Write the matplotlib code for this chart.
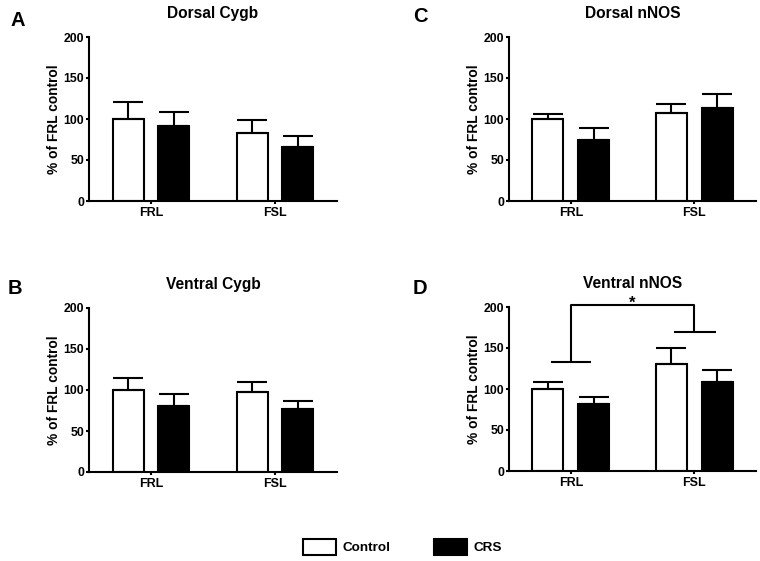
import numpy as np
import matplotlib
matplotlib.use("Agg")
import matplotlib.pyplot as plt
from matplotlib.patches import Patch

plt.rcParams['font.family'] = ['Liberation Sans', 'DejaVu Sans']
plt.rcParams['font.weight'] = 'bold'

# data (% of FRL control)
groups = ["FRL", "FSL"]
titles = ["Dorsal Cygb", "Ventral Cygb", "Dorsal nNOS", "Ventral nNOS"]
letters = ["A", "B", "C", "D"]

dorsal_cygb_ctrl = [100, 83]
dorsal_cygb_ctrl_err = [21, 16]
dorsal_cygb_crs = [92, 66]
dorsal_cygb_crs_err = [16, 13]

ventral_cygb_ctrl = [100, 97]
ventral_cygb_ctrl_err = [15, 13]
ventral_cygb_crs = [81, 77]
ventral_cygb_crs_err = [14, 10]

dorsal_nnos_ctrl = [100, 107]
dorsal_nnos_ctrl_err = [6, 11]
dorsal_nnos_crs = [75, 113]
dorsal_nnos_crs_err = [14, 17]

ventral_nnos_ctrl = [100, 131]
ventral_nnos_ctrl_err = [8, 19]
ventral_nnos_crs = [82, 109]
ventral_nnos_crs_err = [8, 14]

panels = [
    (dorsal_cygb_ctrl, dorsal_cygb_ctrl_err, dorsal_cygb_crs, dorsal_cygb_crs_err),
    (ventral_cygb_ctrl, ventral_cygb_ctrl_err, ventral_cygb_crs, ventral_cygb_crs_err),
    (dorsal_nnos_ctrl, dorsal_nnos_ctrl_err, dorsal_nnos_crs, dorsal_nnos_crs_err),
    (ventral_nnos_ctrl, ventral_nnos_ctrl_err, ventral_nnos_crs, ventral_nnos_crs_err),
]

W, H = 760, 561
fig = plt.figure(figsize=(W / 100, H / 100), dpi=100)

# axes boxes in pixels: (left, top, right, bottom)
boxes = [(89, 37, 337, 201), (89, 308, 337, 472), (509, 37, 756, 201), (509, 307, 756, 471)]
letter_pos = [(18, 20), (15, 288), (420, 17), (420, 289)]

lw = 1.5
x = np.arange(len(groups))
off = 0.185
bw = 0.25

axes = []
for i, (ctrl, ctrl_err, crs, crs_err) in enumerate(panels):
    l, t, r, b = boxes[i]
    ax = fig.add_axes([l / W, 1 - b / H, (r - l) / W, (b - t) / H])
    axes.append(ax)
    ax.bar(x - off, ctrl, bw, color="white", edgecolor="black", linewidth=lw, zorder=2)
    ax.bar(x + off, crs, bw, color="black", edgecolor="black", linewidth=lw, zorder=2)
    ax.errorbar(x - off, ctrl, yerr=[np.zeros(2), ctrl_err], fmt="none", ecolor="black",
                elinewidth=lw, capsize=10.5, capthick=lw, zorder=3)
    ax.errorbar(x + off, crs, yerr=[np.zeros(2), crs_err], fmt="none", ecolor="black",
                elinewidth=lw, capsize=10.5, capthick=lw, zorder=3)
    ax.set_xlim(-0.5, 1.5)
    ax.set_ylim(0, 200)
    ax.set_yticks([0, 50, 100, 150, 200])
    ax.set_xticks(x)
    ax.set_xticklabels(groups)
    ax.spines["top"].set_visible(False)
    ax.spines["right"].set_visible(False)
    for s in ["left", "bottom"]:
        ax.spines[s].set_linewidth(lw)
    ax.tick_params(axis="y", direction="out", length=2.5, width=lw, labelsize=8.8, pad=1)
    ax.tick_params(axis="x", direction="out", length=2.5, width=lw, labelsize=9, pad=2)
    ax.set_ylabel("% of FRL control", fontsize=9.9, fontweight="bold", labelpad=2)
    ax.set_title(titles[i], fontsize=11.2, fontweight="bold", pad=14)
    lx, ly = letter_pos[i]
    fig.text(lx / W, 1 - ly / H, letters[i], fontsize=14.5, fontweight="bold",
             ha="center", va="center")

# significance bracket in panel D
axd = axes[3]
kw = dict(color="black", linewidth=lw, clip_on=False, solid_capstyle="butt")
axd.plot([0, 0, 1, 1], [133, 203, 203, 170], **kw)
axd.plot([-0.16, 0.16], [133, 133], **kw)
axd.plot([0.84, 1.18], [170, 170], **kw)
axd.text(0.5, 198.5, "*", ha="center", va="baseline", fontsize=12, fontweight="bold")

handles = [Patch(facecolor="white", edgecolor="black", linewidth=lw),
           Patch(facecolor="black", edgecolor="black", linewidth=lw)]
fig.legend(handles, ["Control", "CRS"], loc="center left", bbox_to_anchor=(303 / W, 1 - 547 / H),
           ncol=2, frameon=False, fontsize=9.7, borderpad=0, borderaxespad=0,
           handlelength=2.45, handleheight=1.4, handletextpad=0.5, columnspacing=3.2)

fig.savefig("out.png", dpi=100)
